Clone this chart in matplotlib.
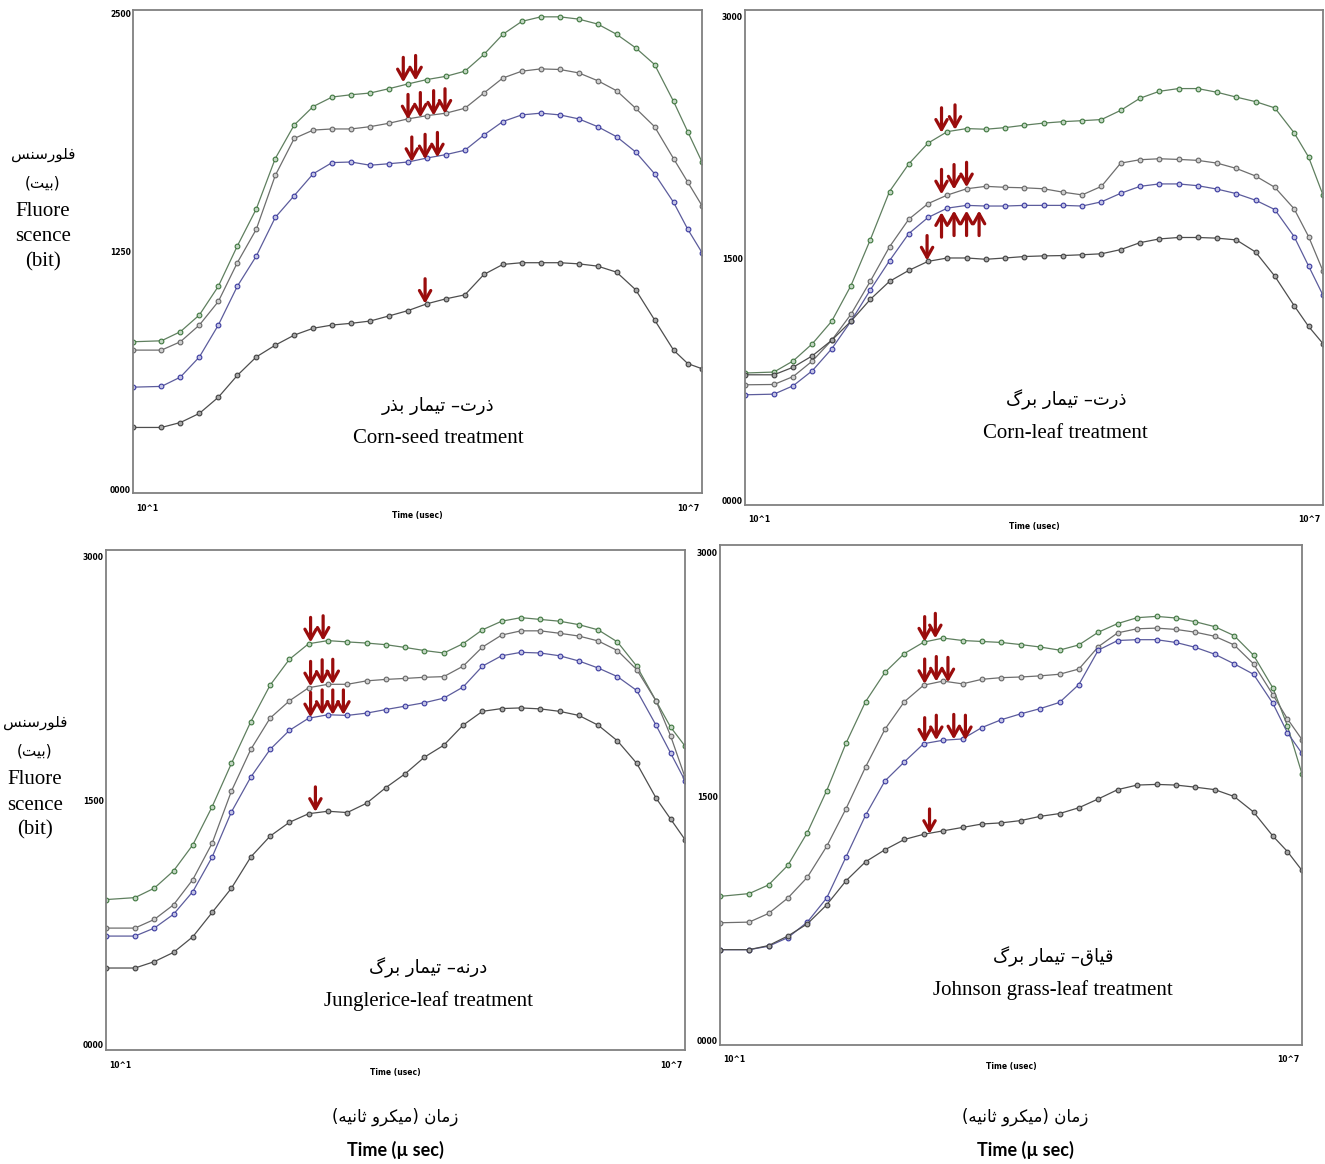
#!/usr/bin/env python
# -*- coding:utf8 -*-
import numpy as np
import matplotlib
matplotlib.use('Agg')
import matplotlib.pyplot as plt

logTime = [1.0, 1.3, 1.5, 1.7, 1.9, 2.1, 2.3, 2.5, 2.7, 2.9, 3.1, 3.3, 3.5, 3.7, 3.9, 4.1,
           4.3, 4.5, 4.7, 4.9, 5.1, 5.3, 5.5, 5.7, 5.9, 6.1, 6.3, 6.5, 6.7, 6.85, 7.0]

# corn - seed treatment
cornSeedGreen = [775, 780, 828, 916, 1067, 1279, 1474, 1739, 1916, 2013, 2063, 2075, 2084, 2107, 2132, 2155,
                 2172, 2199, 2287, 2393, 2461, 2485, 2485, 2473, 2447, 2393, 2322, 2234, 2040, 1880, 1721]
cornSeedGray = [731, 731, 775, 863, 987, 1191, 1367, 1650, 1845, 1889, 1895, 1895, 1907, 1925, 1948, 1965,
                1978, 2004, 2084, 2163, 2199, 2211, 2208, 2190, 2149, 2096, 2004, 1907, 1739, 1615, 1491]
cornSeedBlue = [536, 540, 589, 695, 863, 1067, 1226, 1429, 1544, 1659, 1718, 1721, 1704, 1712, 1721, 1742,
                1760, 1783, 1863, 1934, 1969, 1978, 1969, 1948, 1907, 1854, 1774, 1659, 1509, 1367, 1244]
cornSeedDark = [324, 324, 350, 398, 483, 598, 695, 757, 810, 846, 863, 872, 884, 911, 939, 975,
                1001, 1022, 1129, 1182, 1191, 1191, 1191, 1185, 1173, 1141, 1049, 890, 731, 660, 633]

# corn - leaf treatment
cornLeafGreen = [793, 799, 868, 975, 1114, 1335, 1618, 1918, 2089, 2218, 2289, 2308, 2304, 2314, 2329, 2342,
                 2351, 2357, 2364, 2421, 2496, 2539, 2556, 2556, 2533, 2503, 2475, 2436, 2282, 2132, 1896]
cornLeafGray = [720, 722, 771, 868, 996, 1157, 1361, 1575, 1746, 1843, 1896, 1935, 1950, 1944, 1941, 1935,
                1914, 1897, 1950, 2094, 2115, 2121, 2117, 2111, 2094, 2061, 2014, 1944, 1811, 1639, 1425]
cornLeafBlue = [658, 662, 714, 808, 943, 1114, 1307, 1489, 1657, 1757, 1815, 1832, 1828, 1828, 1832, 1832,
                1832, 1828, 1854, 1907, 1950, 1965, 1965, 1954, 1933, 1905, 1864, 1806, 1639, 1457, 1275]
cornLeafDark = [782, 782, 829, 900, 996, 1114, 1249, 1361, 1429, 1485, 1506, 1506, 1498, 1506, 1515, 1519,
                1521, 1526, 1532, 1558, 1601, 1624, 1633, 1633, 1629, 1618, 1543, 1393, 1211, 1082, 975]

# junglerice - leaf treatment
jungleGreen = [892, 904, 962, 1068, 1228, 1462, 1728, 1983, 2207, 2366, 2462, 2481, 2473, 2466, 2456, 2439,
               2420, 2405, 2462, 2547, 2600, 2622, 2611, 2600, 2579, 2547, 2473, 2324, 2111, 1951, 1834]
jungleGray = [717, 717, 770, 860, 1015, 1238, 1558, 1813, 2005, 2111, 2192, 2213, 2213, 2234, 2243, 2249,
              2256, 2260, 2324, 2441, 2515, 2541, 2541, 2526, 2509, 2479, 2420, 2303, 2111, 1898, 1643]
jungleBlue = [668, 668, 717, 802, 941, 1153, 1430, 1643, 1813, 1930, 2005, 2026, 2022, 2036, 2058, 2079,
              2100, 2128, 2196, 2324, 2388, 2409, 2405, 2388, 2356, 2313, 2260, 2175, 1962, 1792, 1622]
jungleDark = [472, 472, 511, 568, 664, 813, 962, 1153, 1281, 1366, 1419, 1434, 1426, 1483, 1579, 1664,
              1766, 1839, 1962, 2047, 2064, 2068, 2062, 2047, 2022, 1962, 1866, 1728, 1515, 1387, 1260]

# johnson grass - leaf treatment
johnsonGreen = [887, 904, 957, 1078, 1278, 1536, 1828, 2081, 2261, 2377, 2447, 2472, 2457, 2451, 2445, 2432,
                2417, 2398, 2430, 2508, 2561, 2597, 2605, 2595, 2572, 2542, 2487, 2367, 2166, 1933, 1638]
johnsonGray = [725, 729, 782, 877, 1004, 1194, 1426, 1680, 1912, 2081, 2183, 2208, 2191, 2219, 2229, 2233,
               2240, 2250, 2282, 2419, 2504, 2529, 2533, 2525, 2508, 2483, 2430, 2314, 2124, 1976, 1849]
johnsonBlue = [560, 560, 581, 634, 729, 877, 1130, 1384, 1595, 1712, 1824, 1845, 1853, 1923, 1971, 2007,
               2039, 2077, 2187, 2398, 2457, 2462, 2462, 2445, 2415, 2373, 2314, 2250, 2071, 1891, 1764]
johnsonDark = [560, 560, 585, 644, 718, 835, 983, 1099, 1173, 1236, 1268, 1289, 1310, 1331, 1338, 1352,
               1378, 1395, 1431, 1485, 1542, 1570, 1574, 1570, 1557, 1542, 1500, 1405, 1257, 1162, 1046]

# red arrows: (log10 time, fluorescence at the tip, pointing down?)
cornSeedArrows = [(3.85, 2140, True), (3.98, 2150, True),
                  (3.90, 1945, True), (4.03, 1955, True), (4.17, 1965, True), (4.29, 1975, True),
                  (3.94, 1721, True), (4.08, 1735, True), (4.21, 1745, True),
                  (4.08, 975, True)]
cornLeafArrows = [(3.04, 2282, True), (3.18, 2300, True),
                  (3.04, 1900, True), (3.17, 1930, True), (3.30, 1944, True),
                  (3.04, 1790, False), (3.17, 1800, False), (3.30, 1800, False), (3.43, 1800, False),
                  (2.89, 1490, True)]
jungleArrows = [(3.12, 2470, True), (3.25, 2480, True),
                (3.12, 2200, True), (3.24, 2210, True), (3.35, 2213, True),
                (3.12, 2010, True), (3.24, 2025, True), (3.35, 2025, True), (3.46, 2025, True),
                (3.17, 1430, True)]
johnsonArrows = [(3.11, 2450, True), (3.22, 2470, True),
                 (3.11, 2190, True), (3.23, 2205, True), (3.35, 2200, True),
                 (3.11, 1830, True), (3.23, 1845, True), (3.41, 1850, True), (3.53, 1845, True),
                 (3.16, 1270, True)]

# presentation forms: isolated, final, initial, medial (None = does not join to the next letter)
FORMS = {
    'ا': ('\uFE8D', '\uFE8E', None, None),
    'ب': ('\uFE8F', '\uFE90', '\uFE91', '\uFE92'),
    'ت': ('\uFE95', '\uFE96', '\uFE97', '\uFE98'),
    'ث': ('\uFE99', '\uFE9A', '\uFE9B', '\uFE9C'),
    'د': ('\uFEA9', '\uFEAA', None, None),
    'ذ': ('\uFEAB', '\uFEAC', None, None),
    'ر': ('\uFEAD', '\uFEAE', None, None),
    'ز': ('\uFEAF', '\uFEB0', None, None),
    'س': ('\uFEB1', '\uFEB2', '\uFEB3', '\uFEB4'),
    'ف': ('\uFED1', '\uFED2', '\uFED3', '\uFED4'),
    'ق': ('\uFED5', '\uFED6', '\uFED7', '\uFED8'),
    'ل': ('\uFEDD', '\uFEDE', '\uFEDF', '\uFEE0'),
    'م': ('\uFEE1', '\uFEE2', '\uFEE3', '\uFEE4'),
    'ن': ('\uFEE5', '\uFEE6', '\uFEE7', '\uFEE8'),
    'ه': ('\uFEE9', '\uFEEA', '\uFEEB', '\uFEEC'),
    'و': ('\uFEED', '\uFEEE', None, None),
    'ک': ('\uFB8E', '\uFB8F', '\uFB90', '\uFB91'),
    'گ': ('\uFB92', '\uFB93', '\uFB94', '\uFB95'),
    'ی': ('\uFBFC', '\uFBFD', '\uFEF3', '\uFEF4'),
}


def fa(text):
    # matplotlib does no arabic shaping, so pick the joined forms and reverse by hand
    out = []
    for i, ch in enumerate(text):
        if ch not in FORMS:
            out.append(ch)
            continue
        f = FORMS[ch]
        prev = text[i - 1] if i > 0 else ''
        nxt = text[i + 1] if i < len(text) - 1 else ''
        joinPrev = prev in FORMS and FORMS[prev][2] is not None
        joinNext = f[2] is not None and nxt in FORMS
        if joinPrev and joinNext:
            out.append(f[3])
        elif joinPrev:
            out.append(f[1])
        elif joinNext:
            out.append(f[2])
        else:
            out.append(f[0])
    return ''.join(reversed(out)).translate(str.maketrans('()', ')('))


FA_FONT = ['DejaVu Sans']
SERIF = ['Liberation Serif', 'DejaVu Serif']
RED = '#9a0c0c'
# line / marker face / marker edge per curve
STYLES = [('#5f7f5f', '#c3d6c3', '#3f773f'),
          ('#6e6e6e', '#cfcfcf', '#666666'),
          ('#5c5c9c', '#c4c4e4', '#3a3aa0'),
          ('#4e4e4e', '#a8a8a8', '#404040')]


def drawPanel(rect, ylim, yTicks, yTickLabels, series, arrows, faTitle, enTitle, titlePos):
    ax = fig.add_axes(rect)
    t = 10 ** np.array(logTime)
    for values, (line, face, edge) in zip(series, STYLES):
        ax.plot(t, values, '-', color=line, lw=0.9, marker='o', ms=3.4,
                mfc=face, mec=edge, mew=0.8, zorder=2)
    for lt, tip, down in arrows:
        dy = 25 if down else -25
        ax.annotate('', xy=(10 ** lt, tip), xytext=(0, dy), textcoords='offset pixels',
                    arrowprops=dict(arrowstyle='->,head_length=0.6,head_width=0.34', color=RED,
                                    lw=2.3, mutation_scale=12, shrinkA=0, shrinkB=0), zorder=5)
    ax.set_xscale('log')
    ax.set_xlim(10, 1e7)
    ax.set_ylim(ylim)
    ax.set_xticks([])
    ax.minorticks_off()
    ax.set_yticks(yTicks)
    ax.set_yticklabels(yTickLabels, fontsize=5.5, fontweight='bold')
    ax.tick_params(axis='y', length=0, pad=1.5)
    for sp in ax.spines.values():
        sp.set_color('#808080')
        sp.set_linewidth(1.3)
    # x axis end labels, as printed by the instrument software
    small = dict(xycoords='axes fraction', textcoords='offset pixels', va='center',
                 fontsize=5.5, fontweight='bold')
    ax.annotate('10^1', xy=(0, 0), xytext=(3, -15), ha='left', **small)
    ax.annotate('10^7', xy=(1, 0), xytext=(-3, -15), ha='right', **small)
    ax.annotate('Time (usec)', xy=(0.5, 0), xytext=(0, -22), ha='center', **small)
    ax.text(titlePos[0], titlePos[1], fa(faTitle), transform=ax.transAxes, ha='center', va='center',
            fontsize=13, family=FA_FONT)
    ax.text(titlePos[0], titlePos[1] - 0.067, enTitle, transform=ax.transAxes, ha='center', va='center',
            fontsize=15, family=SERIF)
    return ax


W, H = 1325.0, 1164.0
fig = plt.figure(figsize=(13.25, 11.64), dpi=100)


def box(left, top, right, bottom):
    return [left / W, 1 - bottom / H, (right - left) / W, (bottom - top) / H]


drawPanel(box(133, 10, 702, 493), (-21, 2521), [0, 1250, 2500], ['0000', '1250', '2500'],
          [cornSeedGreen, cornSeedGray, cornSeedBlue, cornSeedDark], cornSeedArrows,
          'ذرت– تیمار بذر', 'Corn-seed treatment', (0.536, 0.180))
drawPanel(box(745, 10, 1323, 505), (-25, 3043), [0, 1500, 3000], ['0000', '1500', '3000'],
          [cornLeafGreen, cornLeafGray, cornLeafBlue, cornLeafDark], cornLeafArrows,
          'ذرت– تیمار برگ', 'Corn-leaf treatment', (0.555, 0.212))
drawPanel(box(106, 550, 685, 1050), (-31, 3037), [0, 1500, 3000], ['0000', '1500', '3000'],
          [jungleGreen, jungleGray, jungleBlue, jungleDark], jungleArrows,
          'درنه– تیمار برگ', 'Junglerice-leaf treatment', (0.557, 0.164))
drawPanel(box(720, 545, 1302, 1045), (-25, 3043), [0, 1500, 3000], ['0000', '1500', '3000'],
          [johnsonGreen, johnsonGray, johnsonBlue, johnsonDark], johnsonArrows,
          'قیاق– تیمار برگ', 'Johnson grass-leaf treatment', (0.572, 0.176))

# y axis captions
for x0, ys in [(43, [155, 183, 211, 237, 262]), (35, [722, 751, 780, 805, 830])]:
    fig.text(x0 / W, 1 - ys[0] / H, fa('فلورسنس'), ha='center', va='center', fontsize=11, family=FA_FONT)
    fig.text(x0 / W, 1 - ys[1] / H, fa('(بیت)'), ha='center', va='center', fontsize=11, family=FA_FONT)
    fig.text(x0 / W, 1 - ys[2] / H, 'Fluore', ha='center', va='center', fontsize=15, family=SERIF)
    fig.text(x0 / W, 1 - ys[3] / H, 'scence', ha='center', va='center', fontsize=15, family=SERIF)
    fig.text(x0 / W, 1 - ys[4] / H, '(bit)', ha='center', va='center', fontsize=15, family=SERIF)

# x axis captions
for x0 in [395, 1025]:
    fig.text(x0 / W, 1 - 1117 / H, fa('زمان (میکرو ثانیه)'), ha='center', va='center',
             fontsize=12, family=FA_FONT)
    fig.text(x0 / W, 1 - 1150 / H, 'Time (µ sec)', ha='center', va='center', fontsize=13,
             fontweight='bold', family=['Lato', 'DejaVu Sans'])

fig.savefig('out.png', dpi=100)
